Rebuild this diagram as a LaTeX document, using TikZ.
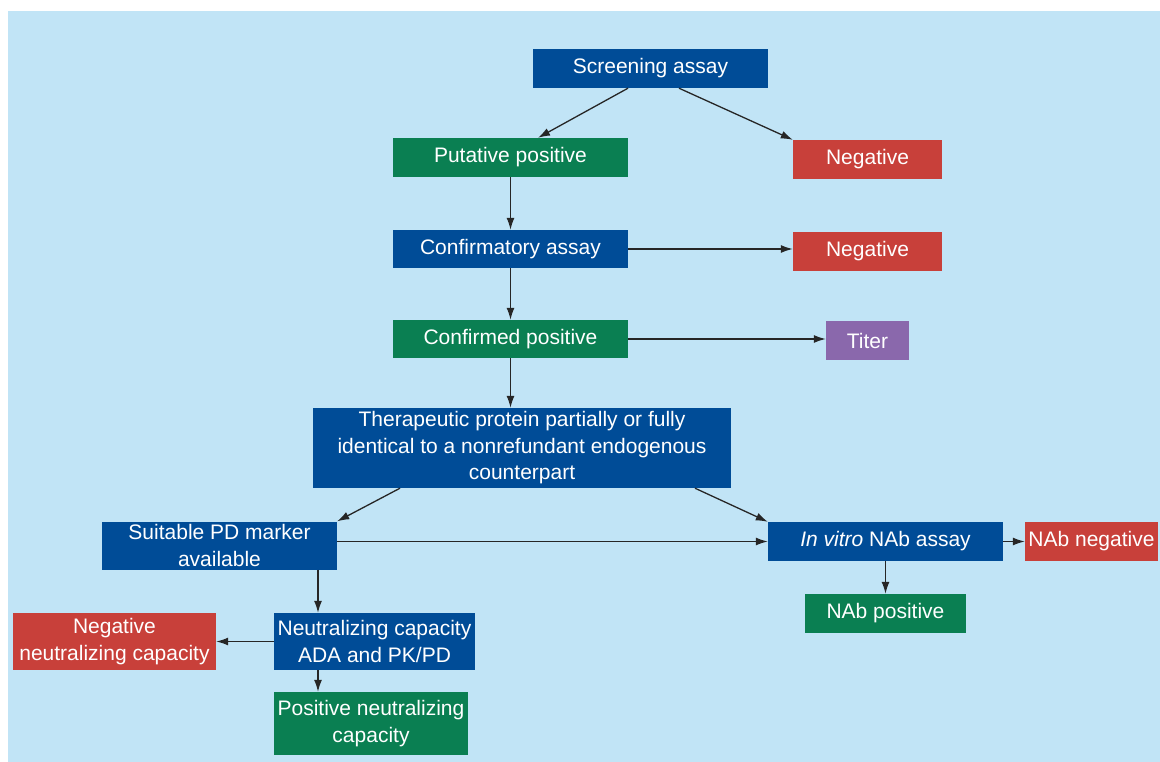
\documentclass[tikz,border=0pt]{standalone}
\usepackage{fontspec}
\setmainfont{Liberation Sans}
\usetikzlibrary{positioning}
\usetikzlibrary{arrows.meta}
\definecolor{bgblue}{RGB}{193,228,246}
\definecolor{boxblue}{RGB}{0,76,151}
\definecolor{boxgreen}{RGB}{10,127,82}
\definecolor{boxred}{RGB}{200,64,58}
\definecolor{boxpurple}{RGB}{138,104,172}
\tikzset{
box/.style={inner sep=1pt,text=white,align=center,font=\fontsize{21}{26.5}\selectfont},
bluebox/.style={box,fill=boxblue},
greenbox/.style={box,fill=boxgreen},
redbox/.style={box,fill=boxred},
purplebox/.style={box,fill=boxpurple},
arr/.style={-{Latex[length=12pt,width=8pt]},line width=1.3pt,draw=black!85}
}
\begin{document}
\begin{tikzpicture}[x=1pt,y=-1pt]
\useasboundingbox(0,0)rectangle(1160,762);
\fill[bgblue](8,11)rectangle(1160,762);

\node[bluebox,minimum width=235pt,minimum height=39pt](screen)at(650.5,68.5){Screening assay};
\node[greenbox,minimum width=235pt,minimum height=39pt](putpos)at(510.5,157.5){Putative positive};
\node[redbox,minimum width=149pt,minimum height=39pt](neg1)at(867.5,159.5){Negative};
\node[bluebox,minimum width=235pt,minimum height=38pt](confassay)at(510.5,249){Confirmatory assay};
\node[redbox,minimum width=149pt,minimum height=39pt](neg2)at(867.5,251.5){Negative};
\node[greenbox,minimum width=235pt,minimum height=38pt](confpos)at(510.5,339){Confirmed positive};
\node[purplebox,minimum width=83pt,minimum height=39pt](titer)at(867.5,340.5){Titer};
\node[bluebox,minimum width=418pt,minimum height=80pt](therap)at(522,448)
{Therapeutic protein partially or fully\\identical to a nonrefundant endogenous\\counterpart};
\node[bluebox,minimum width=235pt,minimum height=48pt](pdmarker)at(219.5,545.5){Suitable PD marker\\available};
\node[bluebox,minimum width=235pt,minimum height=39pt](invitro)at(885.5,541.5){\textit{In vitro} NAb assay};
\node[redbox,minimum width=133pt,minimum height=39pt](nabneg)at(1091.5,541.5){NAb negative};
\node[greenbox,minimum width=161pt,minimum height=39pt](nabpos)at(885.5,613.5){NAb positive};
\node[bluebox,minimum width=201pt,minimum height=57pt](neutcap)at(374.5,641.5){Neutralizing capacity\\ADA and PK/PD};
\node[redbox,minimum width=203pt,minimum height=57pt](negneut)at(114.5,641.5){Negative\\neutralizing capacity};
\node[greenbox,minimum width=194pt,minimum height=63pt](posneut)at(371,723.5){Positive neutralizing\\capacity};

\draw[arr]([xshift=-22.5pt]screen.south)--([xshift=27.5pt]putpos.north);
\draw[arr]([xshift=28.5pt]screen.south)--(neg1.north west);
\draw[arr](putpos)--(confassay);
\draw[arr](confassay.east)--(confassay.east-|neg2.west);
\draw[arr](confassay)--(confpos);
\draw[arr](confpos.east)--(confpos.east-|titer.west);
\draw[arr](confpos.south)--(confpos.south|-therap.north);
\draw[arr]([xshift=-122pt]therap.south)--(pdmarker.north east);
\draw[arr]([xshift=173pt]therap.south)--(invitro.north west);
\draw[arr](pdmarker.east|-invitro.west)--(invitro.west);
\draw[arr](invitro)--(nabneg);
\draw[arr](invitro)--(nabpos);
\draw[arr]([xshift=98.5pt]pdmarker.south)--([xshift=98.5pt]pdmarker.south|-neutcap.north);
\draw[arr](neutcap.west)--(negneut.east);
\draw[arr]([xshift=-56.5pt]neutcap.south)--([xshift=-56.5pt]neutcap.south|-posneut.north);
\end{tikzpicture}
\end{document}
